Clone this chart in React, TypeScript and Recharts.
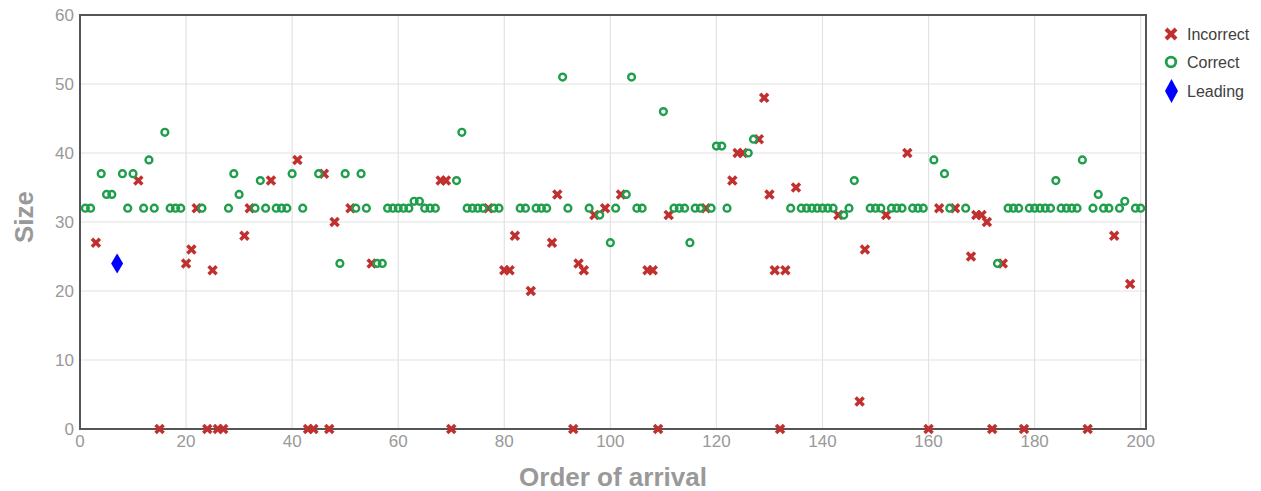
import React from 'react'
import { ScatterChart, Scatter, XAxis, YAxis, CartesianGrid, ReferenceArea, Label } from 'recharts'

// [order of arrival, size]
const incorrectPoints = [
  [3, 27], [11, 36], [15, 0], [20, 24], [21, 26], [22, 32], [24, 0], [25, 23], [26, 0], [27, 0],
  [31, 28], [32, 32], [36, 36], [41, 39], [43, 0], [44, 0], [46, 37], [47, 0], [48, 30], [51, 32],
  [55, 24], [68, 36], [69, 36], [70, 0], [77, 32], [80, 23], [81, 23], [82, 28], [85, 20], [89, 27],
  [90, 34], [93, 0], [94, 24], [95, 23], [97, 31], [99, 32], [102, 34], [107, 23], [108, 23], [109, 0],
  [111, 31], [118, 32], [123, 36], [124, 40], [125, 40], [128, 42], [129, 48], [130, 34], [131, 23], [132, 0],
  [133, 23], [135, 35], [143, 31], [147, 4], [148, 26], [152, 31], [156, 40], [160, 0], [162, 32], [165, 32],
  [168, 25], [169, 31], [170, 31], [171, 30], [172, 0], [174, 24], [178, 0], [190, 0], [195, 28], [198, 21],
]

const correctPoints = [
  [1, 32], [2, 32], [4, 37], [5, 34], [6, 34], [8, 37], [9, 32], [10, 37], [12, 32], [13, 39],
  [14, 32], [16, 43], [17, 32], [18, 32], [19, 32], [23, 32], [28, 32], [29, 37], [30, 34], [33, 32],
  [34, 36], [35, 32], [37, 32], [38, 32], [39, 32], [40, 37], [42, 32], [45, 37], [49, 24], [50, 37],
  [52, 32], [53, 37], [54, 32], [56, 24], [57, 24], [58, 32], [59, 32], [60, 32], [61, 32], [62, 32],
  [63, 33], [64, 33], [65, 32], [66, 32], [67, 32], [71, 36], [72, 43], [73, 32], [74, 32], [75, 32],
  [76, 32], [78, 32], [79, 32], [83, 32], [84, 32], [86, 32], [87, 32], [88, 32], [91, 51], [92, 32],
  [96, 32], [98, 31], [100, 27], [101, 32], [103, 34], [104, 51], [105, 32], [106, 32], [110, 46], [112, 32],
  [113, 32], [114, 32], [115, 27], [116, 32], [117, 32], [119, 32], [120, 41], [121, 41], [122, 32], [126, 40],
  [127, 42], [134, 32], [136, 32], [137, 32], [138, 32], [139, 32], [140, 32], [141, 32], [142, 32], [144, 31],
  [145, 32], [146, 36], [149, 32], [150, 32], [151, 32], [153, 32], [154, 32], [155, 32], [157, 32], [158, 32],
  [159, 32], [161, 39], [163, 37], [164, 32], [167, 32], [173, 24], [175, 32], [176, 32], [177, 32], [179, 32],
  [180, 32], [181, 32], [182, 32], [183, 32], [184, 36], [185, 32], [186, 32], [187, 32], [188, 32], [189, 39],
  [191, 32], [192, 34], [193, 32], [194, 32], [196, 32], [197, 33], [199, 32], [200, 32],
]

const leadingPoints = [[7, 24]]

const xTicks = [0, 20, 40, 60, 80, 100, 120, 140, 160, 180, 200]
const yTicks = [0, 10, 20, 30, 40, 50, 60]

const RED = '#c0302f'
const GREEN = '#1f9e4c'
const BLUE = '#0000ff'
const FONT = 'Arial, "Liberation Sans", sans-serif'

const toRows = (pts: number[][]) => pts.map(([order, size]) => ({ order, size }))

const CrossShape = (p: any) => {
  const s = 4
  return (
    <g>
      <line x1={p.cx - s} y1={p.cy - s} x2={p.cx + s} y2={p.cy + s} stroke={RED} strokeWidth={3.5} />
      <line x1={p.cx - s} y1={p.cy + s} x2={p.cx + s} y2={p.cy - s} stroke={RED} strokeWidth={3.5} />
    </g>
  )
}

const RingShape = (p: any) => (
  <circle cx={p.cx} cy={p.cy} r={3.4} fill="none" stroke={GREEN} strokeWidth={2.4} />
)

const DiamondShape = (p: any) => (
  <polygon
    points={`${p.cx},${p.cy - 10} ${p.cx + 6},${p.cy} ${p.cx},${p.cy + 10} ${p.cx - 6},${p.cy}`}
    fill={BLUE}
  />
)

function LegendBox() {
  const items = [
    { label: 'Incorrect', y: 20 },
    { label: 'Correct', y: 48 },
    { label: 'Leading', y: 77 },
  ]
  return (
    <svg width={106} height={100} style={{ position: 'absolute', left: 1155, top: 14 }}>
      <g>
        <line x1={11} y1={15} x2={21} y2={25} stroke={RED} strokeWidth={4} />
        <line x1={11} y1={25} x2={21} y2={15} stroke={RED} strokeWidth={4} />
      </g>
      <circle cx={16} cy={48} r={4.8} fill="none" stroke={GREEN} strokeWidth={2.8} />
      <polygon points="16.5,65 23,77 16.5,89 10,77" fill={BLUE} />
      {items.map((it) => (
        <text key={it.label} x={32} y={it.y + 6} fontSize={16} fill="#404040" fontFamily={FONT}>
          {it.label}
        </text>
      ))}
    </svg>
  )
}

export default function App() {
  return (
    <div style={{ position: 'absolute', left: 0, top: 0, width: 1261, height: 491, background: '#fff' }}>
      <ScatterChart width={1261} height={491} margin={{ top: 15, right: 115, bottom: 0, left: 0 }}>
        <CartesianGrid stroke="#e2e2e2" strokeWidth={1.2} />
        <XAxis
          type="number"
          dataKey="order"
          domain={[0, 201]}
          ticks={xTicks}
          interval={0}
          height={62}
          tickLine={false}
          tickSize={0}
          tickMargin={6}
          axisLine={false}
          tick={{ fill: '#999', fontSize: 17, fontFamily: FONT }}
        >
          <Label
            content={({ viewBox }: any) => (
              <text
                x={viewBox.x + viewBox.width / 2}
                y={viewBox.y + viewBox.height - 5}
                textAnchor="middle"
                fontSize={26}
                fontWeight="bold"
                fill="#999"
                fontFamily={FONT}
              >
                Order of arrival
              </text>
            )}
          />
        </XAxis>
        <YAxis
          type="number"
          dataKey="size"
          domain={[0, 60]}
          ticks={yTicks}
          interval={0}
          width={80}
          tickLine={false}
          tickSize={0}
          tickMargin={6}
          axisLine={false}
          tick={{ fill: '#999', fontSize: 17, fontFamily: FONT }}
        >
          <Label
            content={({ viewBox }: any) => (
              <text
                x={33}
                y={viewBox.y + viewBox.height / 2 - 5}
                transform={`rotate(-90 33 ${viewBox.y + viewBox.height / 2 - 5})`}
                textAnchor="middle"
                fontSize={26}
                fontWeight="bold"
                fill="#999"
                fontFamily={FONT}
              >
                Size
              </text>
            )}
          />
        </YAxis>
        <ReferenceArea x1={0} x2={201} y1={0} y2={60} fill="none" stroke="#555" strokeWidth={2} />
        <Scatter name="Incorrect" data={toRows(incorrectPoints)} shape={CrossShape} isAnimationActive={false} />
        <Scatter name="Correct" data={toRows(correctPoints)} shape={RingShape} isAnimationActive={false} />
        <Scatter name="Leading" data={toRows(leadingPoints)} shape={DiamondShape} isAnimationActive={false} />
      </ScatterChart>
      <LegendBox />
    </div>
  )
}
